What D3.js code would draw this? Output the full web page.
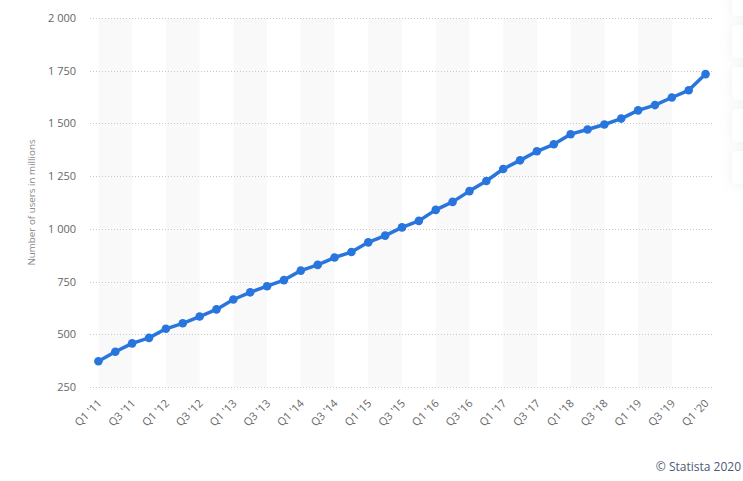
<!DOCTYPE html>
<html>
<head>
<meta charset="utf-8">
<script src="https://cdn.jsdelivr.net/npm/d3@7"></script>
<style>
  html, body { margin: 0; padding: 0; background: #fff; }
  svg { display: block; font-family: "Open Sans", "Noto Sans", sans-serif; }
</style>
</head>
<body>
<svg id="chart" width="743" height="481"></svg>
<script>
const quarters = [
  "Q1 '11","Q2 '11","Q3 '11","Q4 '11",
  "Q1 '12","Q2 '12","Q3 '12","Q4 '12",
  "Q1 '13","Q2 '13","Q3 '13","Q4 '13",
  "Q1 '14","Q2 '14","Q3 '14","Q4 '14",
  "Q1 '15","Q2 '15","Q3 '15","Q4 '15",
  "Q1 '16","Q2 '16","Q3 '16","Q4 '16",
  "Q1 '17","Q2 '17","Q3 '17","Q4 '17",
  "Q1 '18","Q2 '18","Q3 '18","Q4 '18",
  "Q1 '19","Q2 '19","Q3 '19","Q4 '19",
  "Q1 '20"
];
const users = [
  372, 417, 457, 483,
  526, 552, 584, 618,
  665, 699, 728, 757,
  802, 829, 864, 890,
  936, 968, 1007, 1038,
  1090, 1128, 1179, 1227,
  1284, 1325, 1368, 1401,
  1449, 1471, 1495, 1523,
  1562, 1587, 1623, 1657,
  1734
];
const yTicks = [250, 500, 750, 1000, 1250, 1500, 1750, 2000];
const yTitle = "Number of users in millions";
const credit = "© Statista 2020";

(function () {
const svg = d3.select("#chart");
const pL = 90, pR = 714, pT = 18, pB = 387;

const x = d3.scalePoint().domain(quarters).range([pL, pR]).padding(0.5);
const y = d3.scaleLinear().domain([250, 2000]).range([pB, pT]);
const fmt = v => d3.format(",")(v).replace(/,/g, " ");

// alternate bands (every two categories, from Q1 to Q3)
const bandStarts = quarters.filter((q, i) => i % 4 === 0 && i + 2 < quarters.length);
svg.append("g").selectAll("rect").data(bandStarts).join("rect")
  .attr("x", d => x(d))
  .attr("width", d => x(quarters[quarters.indexOf(d) + 2]) - x(d))
  .attr("y", pT)
  .attr("height", pB - pT)
  .attr("fill", "#f9f9f9");

// gridlines
svg.append("g").selectAll("line").data(yTicks).join("line")
  .attr("x1", pL).attr("x2", pR)
  .attr("y1", d => Math.round(y(d)) + 0.5).attr("y2", d => Math.round(y(d)) + 0.5)
  .attr("stroke", "#c8c8c8").attr("stroke-width", 1).attr("stroke-dasharray", "1,2");

// y labels
svg.append("g").selectAll("text").data(yTicks).join("text")
  .attr("x", 76).attr("y", d => y(d) + 4)
  .attr("text-anchor", "end")
  .attr("font-size", 11).attr("fill", "#666")
  .text(d => fmt(d));

// y title
svg.append("text")
  .attr("transform", `translate(35, ${(pT + pB) / 2}) rotate(-90)`)
  .attr("text-anchor", "middle")
  .attr("font-size", 9.8).attr("fill", "#888")
  .text(yTitle);

// x labels every 2 categories
const xLabels = quarters.filter((q, i) => i % 2 === 0);
svg.append("g").selectAll("text").data(xLabels).join("text")
  .attr("transform", d => `translate(${x(d) + 4}, ${pB + 17}) rotate(-45)`)
  .attr("text-anchor", "end")
  .attr("font-size", 11).attr("fill", "#666")
  .text(d => d);

// line
const pts = quarters.map((q, i) => [x(q), y(users[i])]);
svg.append("path")
  .attr("d", d3.line()(pts))
  .attr("fill", "none").attr("stroke", "#2876dd").attr("stroke-width", 3.5)
  .attr("stroke-linejoin", "round");
svg.append("g").selectAll("circle").data(pts).join("circle")
  .attr("cx", d => d[0]).attr("cy", d => d[1]).attr("r", 4.3)
  .attr("fill", "#2876dd");

// side UI cards
const defs = svg.append("defs");
const f = defs.append("filter").attr("id", "sh").attr("x", "-50%").attr("y", "-50%").attr("width", "200%").attr("height", "200%");
f.append("feDropShadow").attr("dx", 0).attr("dy", 0).attr("stdDeviation", 6).attr("flood-color", "#9aa5c0").attr("flood-opacity", 0.18);
const cards = [[-20, 16], [25, 58], [67, 100], [109, 142], [151, 184]];
svg.append("g").selectAll("rect").data(cards).join("rect")
  .attr("x", 732).attr("y", d => d[0]).attr("width", 30).attr("height", d => d[1] - d[0])
  .attr("rx", 4).attr("fill", "#fff").attr("filter", "url(#sh)");

// credit
svg.append("text")
  .attr("x", 741).attr("y", 471)
  .attr("text-anchor", "end")
  .attr("font-size", 12).attr("fill", "#4b5b78")
  .text(credit);
})();
</script>
</body>
</html>
